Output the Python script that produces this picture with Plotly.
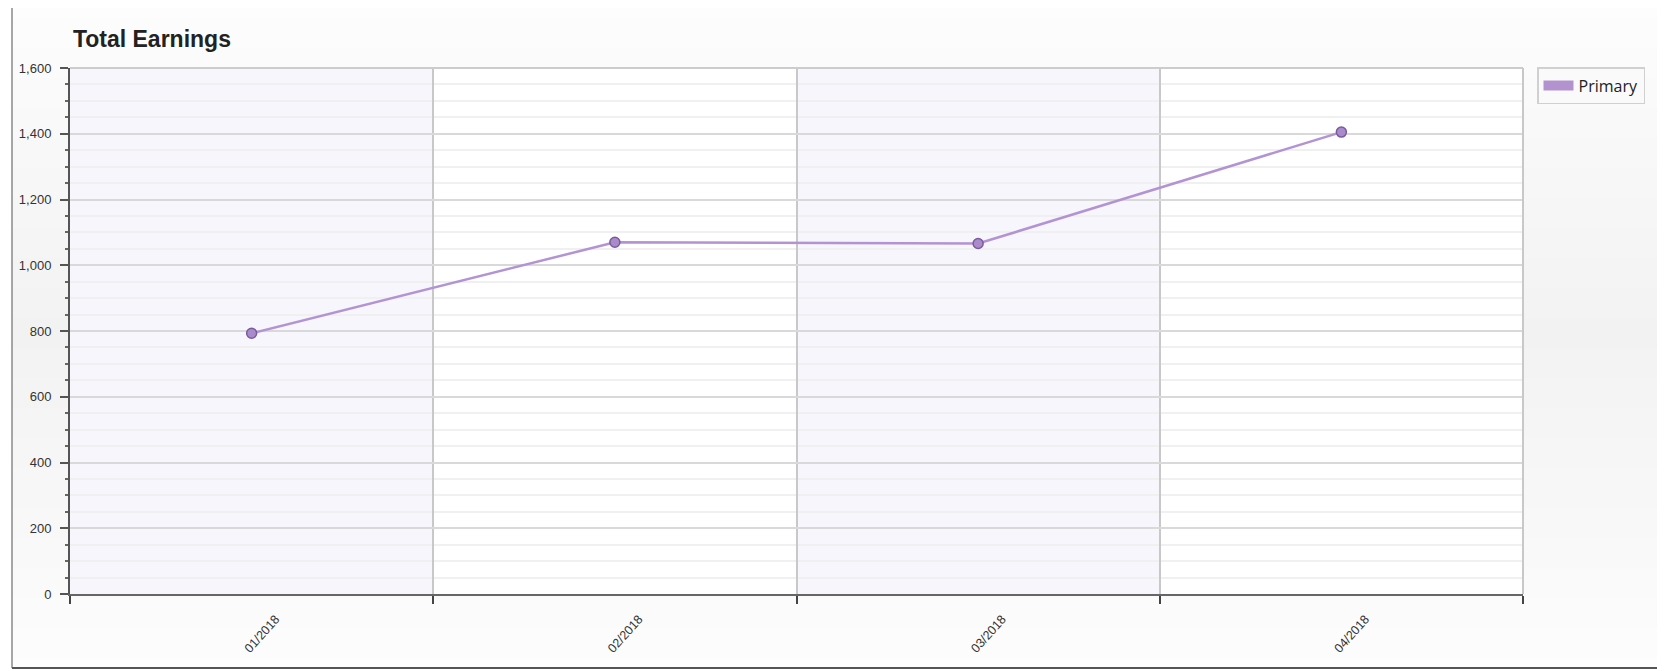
import plotly.graph_objects as go

categories = ["01/2018", "02/2018", "03/2018", "04/2018"]
primary = [793, 1070, 1066, 1405]
y_ticks = [0, 200, 400, 600, 800, 1000, 1200, 1400, 1600]
y_tick_labels = ["0", "200", "400", "600", "800", "1,000", "1,200", "1,400", "1,600"]

LINE = "#b493d3"
MARKER = "#a98bcc"
MARKER_EDGE = "#7a5a9c"

# page geometry (the page body adds an 8px offset)
PL, PR, PT, PB = 70, 1523, 68, 594   # plot area in page pixels
PW, PH = PR - PL, PB - PT


def px(X):
    return (X - PL) / PW


def py(Y):
    return (PB - Y) / PH


fig = go.Figure()

# soft vertical background gradient of the chart panel
step = 10
for Y in range(8, 668, step):
    t = (Y + step / 2) / 671
    c = round(253 - 11 * (1 - abs(2 * t - 1)))
    fig.add_shape(type="rect", xref="paper", yref="paper",
                  x0=px(12), x1=px(1670), y0=py(min(Y + step, 668)), y1=py(Y),
                  fillcolor=f"rgb({c},{c},{c})", line_width=0, layer="below")
# plot area background
fig.add_shape(type="rect", xref="paper", yref="paper", x0=0, x1=1, y0=0, y1=1,
              fillcolor="#ffffff", line_width=0, layer="below")
# alternating column bands
for i in range(0, len(categories), 2):
    fig.add_shape(type="rect", xref="x", yref="paper", x0=i - 0.5, x1=i + 0.5, y0=0, y1=1,
                  fillcolor="#f6f6fc", line_width=0, layer="below")

fig.add_trace(go.Scatter(
    x=categories, y=primary, mode="lines+markers", name="Primary", showlegend=False,
    line=dict(color=LINE, width=2.5),
    marker=dict(size=10, color=MARKER, line=dict(color=MARKER_EDGE, width=1.5)),
    cliponaxis=False,
))
# legend proxy (swatch)
fig.add_trace(go.Scatter(
    x=[None], y=[None], mode="lines", name="Primary", showlegend=True,
    line=dict(color="#b393cf", width=16),
))

# plot border top/right
fig.add_shape(type="line", xref="paper", yref="paper", x0=0, x1=1, y0=1, y1=1,
              line=dict(color="#cccccc", width=2))
fig.add_shape(type="line", xref="paper", yref="paper", x0=1, x1=1, y0=0, y1=1,
              line=dict(color="#c8c8c8", width=2))
# outer frame left/bottom
fig.add_shape(type="line", xref="paper", yref="paper", x0=px(12), x1=px(12), y0=py(668), y1=py(8),
              line=dict(color="#8a8a8a", width=1.5))
fig.add_shape(type="line", xref="paper", yref="paper", x0=px(12), x1=px(1670),
              y0=py(668), y1=py(668), line=dict(color="#555555", width=2))

fig.update_layout(
    width=1657, height=663,
    margin=dict(l=62, r=142, t=60, b=77),
    paper_bgcolor="#ffffff",
    plot_bgcolor="#ffffff",
    title=dict(text="<b>Total Earnings</b>", x=0.002, xref="paper", xanchor="left",
               y=1 - 31 / 663, yref="container", yanchor="middle",
               font=dict(family="Liberation Sans, Arial", size=23, color="#222222")),
    legend=dict(x=px(1537), y=py(67), xanchor="left", yanchor="top",
                bgcolor="#fafafa", bordercolor="#d0d0d0", borderwidth=1.5,
                font=dict(family="Open Sans", size=16, color="#222222"),
                entrywidth=108, itemwidth=30),
    showlegend=True,
)

fig.update_xaxes(
    type="category", range=[-0.5, 3.5], tickson="boundaries",
    showgrid=True, gridcolor="#c8c8c8", gridwidth=1.5,
    showline=True, linecolor="#666666", linewidth=2,
    ticks="outside", ticklen=8, tickcolor="#444444", tickwidth=1.5,
    tickangle=-48, ticklabelshift=24, ticklabelstandoff=11,
    tickfont=dict(family="Liberation Sans, Arial", size=12.5, color="#333333"),
    zeroline=False,
)
fig.update_yaxes(
    range=[0, 1600], tickvals=y_ticks, ticktext=y_tick_labels,
    showgrid=True, gridcolor="#d9d9d9", gridwidth=2,
    showline=True, linecolor="#555555", linewidth=2,
    ticks="outside", ticklen=8, tickcolor="#555555", tickwidth=2,
    ticklabelstandoff=6,
    tickfont=dict(family="Liberation Sans, Arial", size=13, color="#333333"),
    minor=dict(dtick=50, showgrid=True, gridcolor="#f0f0f0", gridwidth=1.5,
               ticks="outside", ticklen=3, tickcolor="#666666", tickwidth=1.5),
    zeroline=False,
)

fig.write_html("out.html")
